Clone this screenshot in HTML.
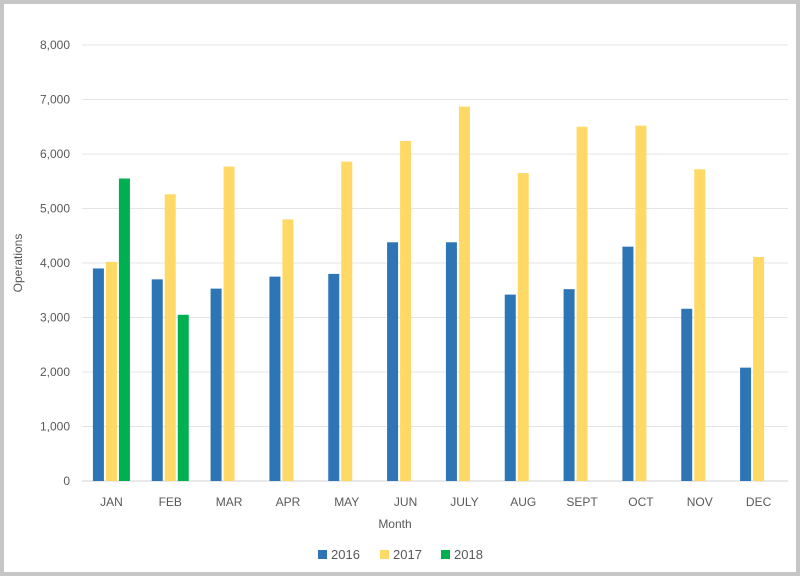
<!DOCTYPE html>
<html><head><meta charset="utf-8"><style>
body{margin:0;background:#fff;}
svg{display:block;font-family:"Liberation Sans",sans-serif;}
</style></head><body>
<svg id="c" width="800" height="576">
<rect x="2" y="2" width="796" height="572" fill="#fff" stroke="#c6c6c6" stroke-width="4"/>
<g id="grid"></g><g id="bars"></g><g id="labels"></g>
<text x="22" y="263" transform="rotate(-90 22 263)" text-anchor="middle" font-size="12" fill="#595959">Operations</text>
<text x="395" y="528" text-anchor="middle" font-size="12" fill="#595959">Month</text>
<g id="legend"></g>
</svg>
<script>
const categories=["JAN","FEB","MAR","APR","MAY","JUN","JULY","AUG","SEPT","OCT","NOV","DEC"];
const s2016=[3900,3700,3530,3750,3800,4380,4380,3420,3520,4300,3160,2080];
const s2017=[4020,5260,5770,4800,5860,6240,6870,5650,6500,6520,5720,4110];
const s2018=[5550,3050,null,null,null,null,null,null,null,null,null,null];
const yTicks=[0,1000,2000,3000,4000,5000,6000,7000,8000];
const seriesNames=["2016","2017","2018"];
const colors=["#2e75b6","#ffd966","#00b050"];
const NS="http://www.w3.org/2000/svg";
const L=82,R=788,T=45,B=481,yMax=8000;
const y=v=>B-(v/yMax)*(B-T);
const step=(R-L)/categories.length;
const xc=i=>L+step*(i+0.5);
function mk(t,a,p){const e=document.createElementNS(NS,t);for(const k in a)e.setAttribute(k,a[k]);p.appendChild(e);return e;}
const g=document.getElementById('grid'),b=document.getElementById('bars'),lb=document.getElementById('labels'),lg=document.getElementById('legend');
yTicks.forEach(v=>{
 const l=mk('line',{x1:L,x2:R,y1:y(v),y2:y(v),stroke:v===0?'#d0d0d0':'#e4e4e4','stroke-width':1},g);
 
 
 const t=mk('text',{x:70,y:y(v)+4,'text-anchor':'end','font-size':12,fill:'#595959'},lb);
 t.textContent=v.toLocaleString('en-US');
 
 
});
const series=[s2016,s2017,s2018];
const bw=11,gap=2;
categories.forEach((c,i)=>{
 series.forEach((s,k)=>{
  if(s[i]==null)return;
  const x=xc(i)+(k-1)*(bw+gap)-bw/2;
  const r=mk('rect',{x:x,y:y(s[i]),width:bw,height:B-y(s[i]),fill:colors[k]},b);
  
  
 });
 const t=mk('text',{x:xc(i),y:506,'text-anchor':'middle','font-size':12,fill:'#595959'},lb);
 t.textContent=c;
 
 
});
const lx=[318,380,441];
seriesNames.forEach((n,k)=>{
 const r=mk('rect',{x:lx[k],y:550,width:9,height:9,fill:colors[k]},lg);
 
 
 const t=mk('text',{x:lx[k]+13,y:559,'font-size':13,fill:'#595959'},lg);
 t.textContent=n;
 
 
});
</script>
</body></html>
